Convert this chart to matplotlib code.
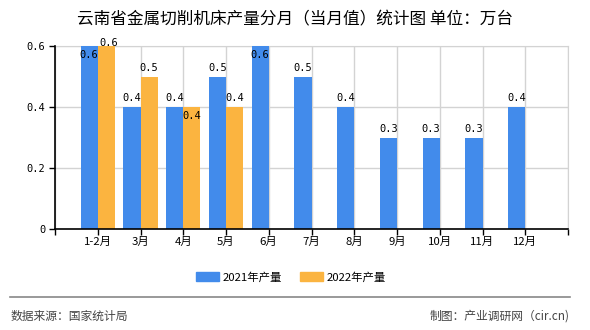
import matplotlib
matplotlib.use("Agg")
import matplotlib.pyplot as plt
from matplotlib.patches import Patch
import numpy as np

plt.rcParams['font.family'] = ['Noto Sans CJK SC', 'DejaVu Sans']

categories = ['1-2月', '3月', '4月', '5月', '6月', '7月', '8月', '9月', '10月', '11月', '12月']
values_2021 = [0.6, 0.4, 0.4, 0.5, 0.6, 0.5, 0.4, 0.3, 0.3, 0.3, 0.4]
values_2022 = [0.6, 0.5, 0.4, 0.4]
series_names = ['2021年产量', '2022年产量']
yticks = [0, 0.2, 0.4, 0.6]
ytick_labels = ['0', '0.2', '0.4', '0.6']
title = '云南省金属切削机床产量分月（当月值）统计图 单位：万台'
source = '数据来源：国家统计局'
credit = '制图：产业调研网（cir.cn)'

c_blue = '#428BEB'
c_orange = '#FBB440'

W, H = 590, 330
fig = plt.figure(figsize=(W / 100, H / 100), dpi=100)
ax = fig.add_axes([55 / W, 1 - 229 / H, (568 - 55) / W, (229 - 46) / H])

x = np.arange(len(categories))
bw = 0.4
ax.bar(x - bw / 2, values_2021, width=bw, color=c_blue, zorder=3)
x2 = np.arange(len(values_2022))
ax.bar(x2 + bw / 2, values_2022, width=bw, color=c_orange, zorder=3)

ymax = 0.6
ax.set_ylim(0, ymax)
ax.set_xlim(-1, len(categories))

lab_font = dict(fontsize=7.5, family=['DejaVu Sans Mono'], ha='center', zorder=5)
for xi, v in zip(x, values_2021):
    if v >= ymax:
        ax.text(xi - bw / 2, v - 0.012, f'{v:g}', va='top', **lab_font)
    else:
        ax.text(xi - bw / 2, v + 0.012, f'{v:g}', va='bottom', **lab_font)
for xi, v in zip(x2, values_2022):
    blue_v = values_2021[xi]
    if v >= ymax:
        ax.text(xi + bw / 2 + 0.05, v - 0.008, f'{v:g}', va='bottom', **lab_font)
    elif blue_v == v:
        ax.text(xi + bw / 2, v - 0.012, f'{v:g}', va='top', **lab_font)
    else:
        ax.text(xi + bw / 2, v + 0.012, f'{v:g}', va='bottom', **lab_font)

ticks = np.arange(-1, len(categories) + 1)
ax.set_xticks(ticks)
ax.set_xticklabels([''] + categories + [''], fontsize=8.2)
ax.set_yticks(yticks)
ax.set_yticklabels(ytick_labels, fontsize=7.5, family=['DejaVu Sans Mono'])
ax.tick_params(axis='x', length=4, width=1, color='black', pad=2)
ax.tick_params(axis='y', length=4, width=1, color='black', pad=3)
ax.grid(True, color='#D3D3D3', linewidth=1, zorder=0)
for s in ['top', 'right']:
    ax.spines[s].set_color('#D3D3D3')
for s in ['left', 'bottom']:
    ax.spines[s].set_color('black')
    ax.spines[s].set_linewidth(1.2)
    ax.spines[s].set_zorder(4)

fig.text(0.5, 1 - 20 / H, title, ha='center', va='center', fontsize=12, weight='medium')

handles = [Patch(color=c_blue), Patch(color=c_orange)]
fig.legend(handles, series_names, loc='center', bbox_to_anchor=(291 / W, 1 - 277 / H),
           ncol=2, frameon=False, fontsize=8.2, handlelength=2.0, handleheight=0.8,
           columnspacing=1.6, handletextpad=0.3)

fig.add_artist(plt.Line2D([10 / W, 570 / W], [1 - 297 / H, 1 - 297 / H], color='#888888', linewidth=1.2))
fig.text(11 / W, 1 - 316 / H, source, ha='left', va='center', fontsize=8.5, color='#444444')
fig.text(570 / W, 1 - 316 / H, credit, ha='right', va='center', fontsize=8.5, color='#444444')

fig.savefig('out.png', dpi=100)
